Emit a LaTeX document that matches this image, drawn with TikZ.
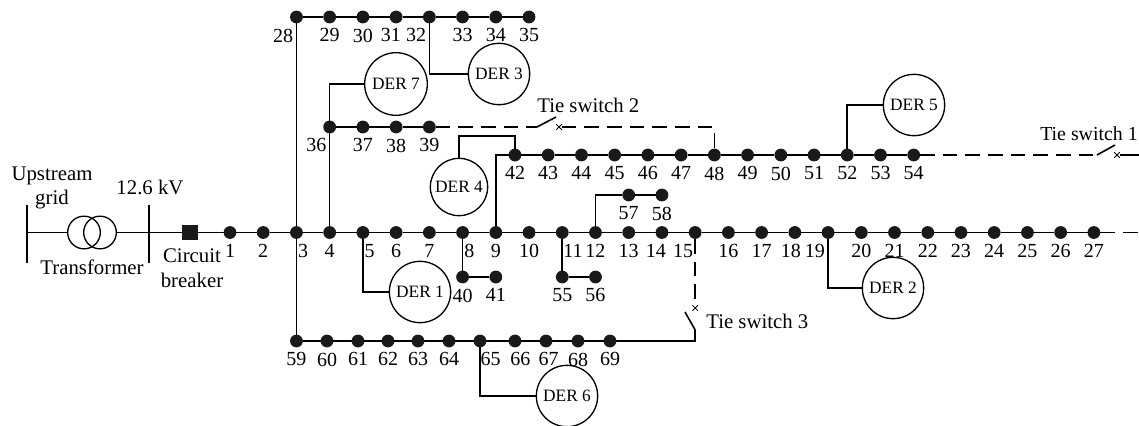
\documentclass[tikz,border=0pt]{standalone}
\usepackage{fontspec}
\setmainfont{Liberation Serif}
\usetikzlibrary{positioning, shapes.misc}

\begin{document}
\begin{tikzpicture}[
        x=0.75pt, y=-0.75pt,
        node distance=15.32pt,
        bus/.style={circle, fill=black!90, inner sep=0pt, outer sep=0pt, minimum size=9.6pt},
        num/.style={font=\fontsize{15pt}{17pt}\selectfont, inner sep=0pt, label distance=3.8pt},
        txt/.style={font=\fontsize{15.6pt}{18.5pt}\selectfont, inner sep=0pt, align=center},
        der/.style={circle, draw, line width=1pt, inner sep=0pt, minimum size=46pt, font=\fontsize{13pt}{14pt}\selectfont},
        wire/.style={line width=1.2pt},
        tie/.style={line width=1.2pt, dash pattern=on 11pt off 6pt},
        cross/.style={cross out, draw, line width=0.6pt, inner sep=0pt, minimum size=3.6pt}
    ]
        \useasboundingbox (0,0) rectangle (1139,425);

        % Upstream side
        \node[txt] (upstream) at (52,188) {Upstream\\grid};
        \node[txt] (kv) at (150,187) {12.6 kV};
        \node[txt] (trafo) at (92,267) {Transformer};
        \node[txt] (cbtext) at (192,268) {Circuit\\breaker};
        \coordinate (g1) at (27,205);
        \coordinate (g2) at (27,263);
        \coordinate (g3) at (149,205);
        \coordinate (g4) at (149,263);
        \coordinate (gm1) at (27,232.5);
        \coordinate (gm2) at (149,232.5);
        \node[circle, draw, line width=1pt, inner sep=0pt, minimum size=24.5pt] (w1) at (84,232.5) {};
        \node[circle, draw, line width=1pt, inner sep=0pt, minimum size=24.5pt] (w2) at (100,232.5) {};
        \node[rectangle, fill=black!90, inner sep=0pt, minimum size=11.5pt] (cb) at (190,232.5) {};

        % Main feeder
        \node[bus, label={[num]below:1}] (n1) at (230,232.5) {};
        \node[bus, right=of n1, label={[num]below:2}] (n2) {};
        \node[bus, right=of n2, label={[num, xshift=5pt]below:3}] (n3) {};
        \node[bus, right=of n3, label={[num]below:4}] (n4) {};
        \node[bus, right=of n4, label={[num, xshift=5pt]below:5}] (n5) {};
        \node[bus, right=of n5, label={[num]below:6}] (n6) {};
        \node[bus, right=of n6, label={[num]below:7}] (n7) {};
        \node[bus, right=of n7, label={[num, xshift=5pt]below:8}] (n8) {};
        \node[bus, right=of n8, label={[num]below:9}] (n9) {};
        \node[bus, right=of n9, label={[num]below:10}] (n10) {};
        \node[bus, right=of n10, label={[num, xshift=8pt]below:11}] (n11) {};
        \node[bus, right=of n11, label={[num]below:12}] (n12) {};
        \node[bus, right=of n12, label={[num]below:13}] (n13) {};
        \node[bus, right=of n13, label={[num, xshift=-4.5pt]below:14}] (n14) {};
        \node[bus, right=of n14, label={[num, xshift=-9pt]below:15}] (n15) {};
        \node[bus, right=of n15, label={[num]below:16}] (n16) {};
        \node[bus, right=of n16, label={[num]below:17}] (n17) {};
        \node[bus, right=of n17, label={[num, xshift=-3pt]below:18}] (n18) {};
        \node[bus, right=of n18, label={[num, xshift=-10pt]below:19}] (n19) {};
        \node[bus, right=of n19, label={[num]below:20}] (n20) {};
        \node[bus, right=of n20, label={[num]below:21}] (n21) {};
        \node[bus, right=of n21, label={[num]below:22}] (n22) {};
        \node[bus, right=of n22, label={[num]below:23}] (n23) {};
        \node[bus, right=of n23, label={[num]below:24}] (n24) {};
        \node[bus, right=of n24, label={[num]below:25}] (n25) {};
        \node[bus, right=of n25, label={[num]below:26}] (n26) {};
        \node[bus, right=of n26, label={[num]below:27}] (n27) {};
        \coordinate (end1) at (1139,232.5);

        % Top feeder
        \node[bus, label={[num, xshift=-10pt]below:28}] (n28) at (n3 |- 0,17) {};
        \node[bus, right=of n28, label={[num]below:29}] (n29) {};
        \node[bus, right=of n29, label={[num]below:30}] (n30) {};
        \node[bus, right=of n30, label={[num, xshift=-4pt]below:31}] (n31) {};
        \node[bus, right=of n31, label={[num, xshift=-10pt]below:32}] (n32) {};
        \node[bus, right=of n32, label={[num]below:33}] (n33) {};
        \node[bus, right=of n33, label={[num]below:34}] (n34) {};
        \node[bus, right=of n34, label={[num]below:35}] (n35) {};

        % Branch from 4
        \node[bus, label={[num, xshift=-10pt]below:36}] (n36) at (n4 |- 0,127) {};
        \node[bus, right=of n36, label={[num]below:37}] (n37) {};
        \node[bus, right=of n37, label={[num]below:38}] (n38) {};
        \node[bus, right=of n38, label={[num]below:39}] (n39) {};

        % Short laterals
        \node[bus, label={[num]below:40}] (n40) at (n8 |- 0,277) {};
        \node[bus, right=of n40, label={[num]below:41}] (n41) {};
        \node[bus, label={[num]below:55}] (n55) at (n11 |- 0,277) {};
        \node[bus, right=of n55, label={[num]below:56}] (n56) {};
        \node[bus, label={[num]below:57}] (n57) at (n13 |- 0,195) {};
        \node[bus, right=of n57, label={[num]below:58}] (n58) {};

        % Feeder from 9
        \node[bus, label={[num]below:42}] (n42) at (515,155) {};
        \node[bus, right=of n42, label={[num]below:43}] (n43) {};
        \node[bus, right=of n43, label={[num]below:44}] (n44) {};
        \node[bus, right=of n44, label={[num]below:45}] (n45) {};
        \node[bus, right=of n45, label={[num]below:46}] (n46) {};
        \node[bus, right=of n46, label={[num]below:47}] (n47) {};
        \node[bus, right=of n47, label={[num]below:48}] (n48) {};
        \node[bus, right=of n48, label={[num]below:49}] (n49) {};
        \node[bus, right=of n49, label={[num]below:50}] (n50) {};
        \node[bus, right=of n50, label={[num]below:51}] (n51) {};
        \node[bus, right=of n51, label={[num]below:52}] (n52) {};
        \node[bus, right=of n52, label={[num]below:53}] (n53) {};
        \node[bus, right=of n53, label={[num]below:54}] (n54) {};

        % Bottom feeder
        \node[bus, label={[num]below:59}] (n59) at (n3 |- 0,341) {};
        \node[bus, label={[num]below:60}] (n60) at (327,341) {};
        \node[bus, label={[num]below:61}] (n61) at (358,341) {};
        \node[bus, label={[num]below:62}] (n62) at (388,341) {};
        \node[bus, label={[num]below:63}] (n63) at (418,341) {};
        \node[bus, label={[num]below:64}] (n64) at (449,341) {};
        \node[bus, label={[num, xshift=8pt]below:65}] (n65) at (480,341) {};
        \node[bus, label={[num, xshift=4pt]below:66}] (n66) at (515,341) {};
        \node[bus, label={[num, xshift=2pt]below:67}] (n67) at (546,341) {};
        \node[bus, label={[num]below:68}] (n68) at (578,341) {};
        \node[bus, label={[num]below:69}] (n69) at (610,341) {};

        % DER units
        \node[der] (der1) at (420,292) {DER 1};
        \node[der] (der2) at (893,288) {DER 2};
        \node[der] (der3) at (499,74) {DER 3};
        \node[der, minimum size=43pt] (der4) at (459,187) {DER 4};
        \node[der] (der5) at (914,105) {DER 5};
        \node[der] (der6) at (567,396) {DER 6};
        \node[der, minimum size=47pt] (der7) at (396,84) {DER 7};

        % Tie switches
        \coordinate (t2a) at (537,127);
        \coordinate (t2b) at (556,117);
        \node[cross] (t2x) at (559,127) {};
        \coordinate (t2c) at (n48 |- 0,127);
        \node[txt, anchor=west] (t2text) at (537,105) {Tie switch 2};
        \coordinate (t1a) at (1097,155);
        \coordinate (t1b) at (1115,145);
        \node[cross] (t1x) at (1117,155) {};
        \coordinate (t1c) at (1139,155);
        \node[txt, anchor=west, font=\fontsize{14.9pt}{18pt}\selectfont] (t1text) at (1040,134) {Tie switch 1};
        \coordinate (t3a) at (n15 |- 0,330);
        \coordinate (t3b) at (685,312);
        \node[cross] (t3x) at (n15 |- 0,308) {};
        \coordinate (t3c) at (n15 |- 0,341);
        \node[txt, anchor=west] (t3text) at (706,321) {Tie switch 3};

        % Wires
        \draw[line width=1.6pt] (g1) -- (g2);
        \draw[line width=1.6pt] (g3) -- (g4);
        \draw[wire] (gm1) -- (w1);
        \draw[wire] (w2) -- (gm2) -- (cb);
        \draw[wire] (cb) -- (n1) -- (n2) -- (n3) -- (n4) -- (n5) -- (n6) -- (n7) -- (n8) -- (n9) -- (n10) -- (n11) -- (n12) -- (n13) -- (n14) -- (n15) -- (n16) -- (n17) -- (n18) -- (n19) -- (n20) -- (n21) -- (n22) -- (n23) -- (n24) -- (n25) -- (n26) -- (n27);
        \draw[tie] (n27) -- (end1);
        \draw[wire] (n28) -- (n29) -- (n30) -- (n31) -- (n32) -- (n33) -- (n34) -- (n35);
        \draw[wire] (n28) -- (n3) -- (n59);
        \draw[wire] (n4) -- (n36) -- (n37) -- (n38) -- (n39);
        \draw[wire] (n8) -- (n40) -- (n41);
        \draw[wire] (n11) -- (n55) -- (n56);
        \draw[wire] (n12) |- (n57);
        \draw[wire] (n57) -- (n58);
        \draw[wire] (n9) |- (n42);
        \draw[wire] (n42) -- (n43) -- (n44) -- (n45) -- (n46) -- (n47) -- (n48) -- (n49) -- (n50) -- (n51) -- (n52) -- (n53) -- (n54);
        \draw[wire] (n59) -- (n60) -- (n61) -- (n62) -- (n63) -- (n64) -- (n65) -- (n66) -- (n67) -- (n68) -- (n69);

        \draw[wire] (n5) |- (der1);
        \draw[wire] (n19) |- (der2);
        \draw[wire] (n32) |- (der3);
        \draw[wire] (der4.north) |- (n42 |- 0,136) -- (n42);
        \draw[wire] (n52) |- (der5);
        \draw[wire] (n65) |- (der6);
        \draw[wire] (n36) |- (der7);

        % Open ties
        \draw[tie] (n39) -- (t2a);
        \draw[wire] (t2a) -- (t2b);
        \draw[tie] (t2x) -- (t2c) -- (n48);
        \draw[tie] (n54) -- (t1a);
        \draw[wire] (t1a) -- (t1b);
        \draw[wire] (t1x) -- (t1c);
        \draw[tie] (n15) -- (t3x);
        \draw[wire] (t3a) -- (t3b);
        \draw[wire] (t3a) -- (t3c) -- (n69);
    \end{tikzpicture}
\end{document}
